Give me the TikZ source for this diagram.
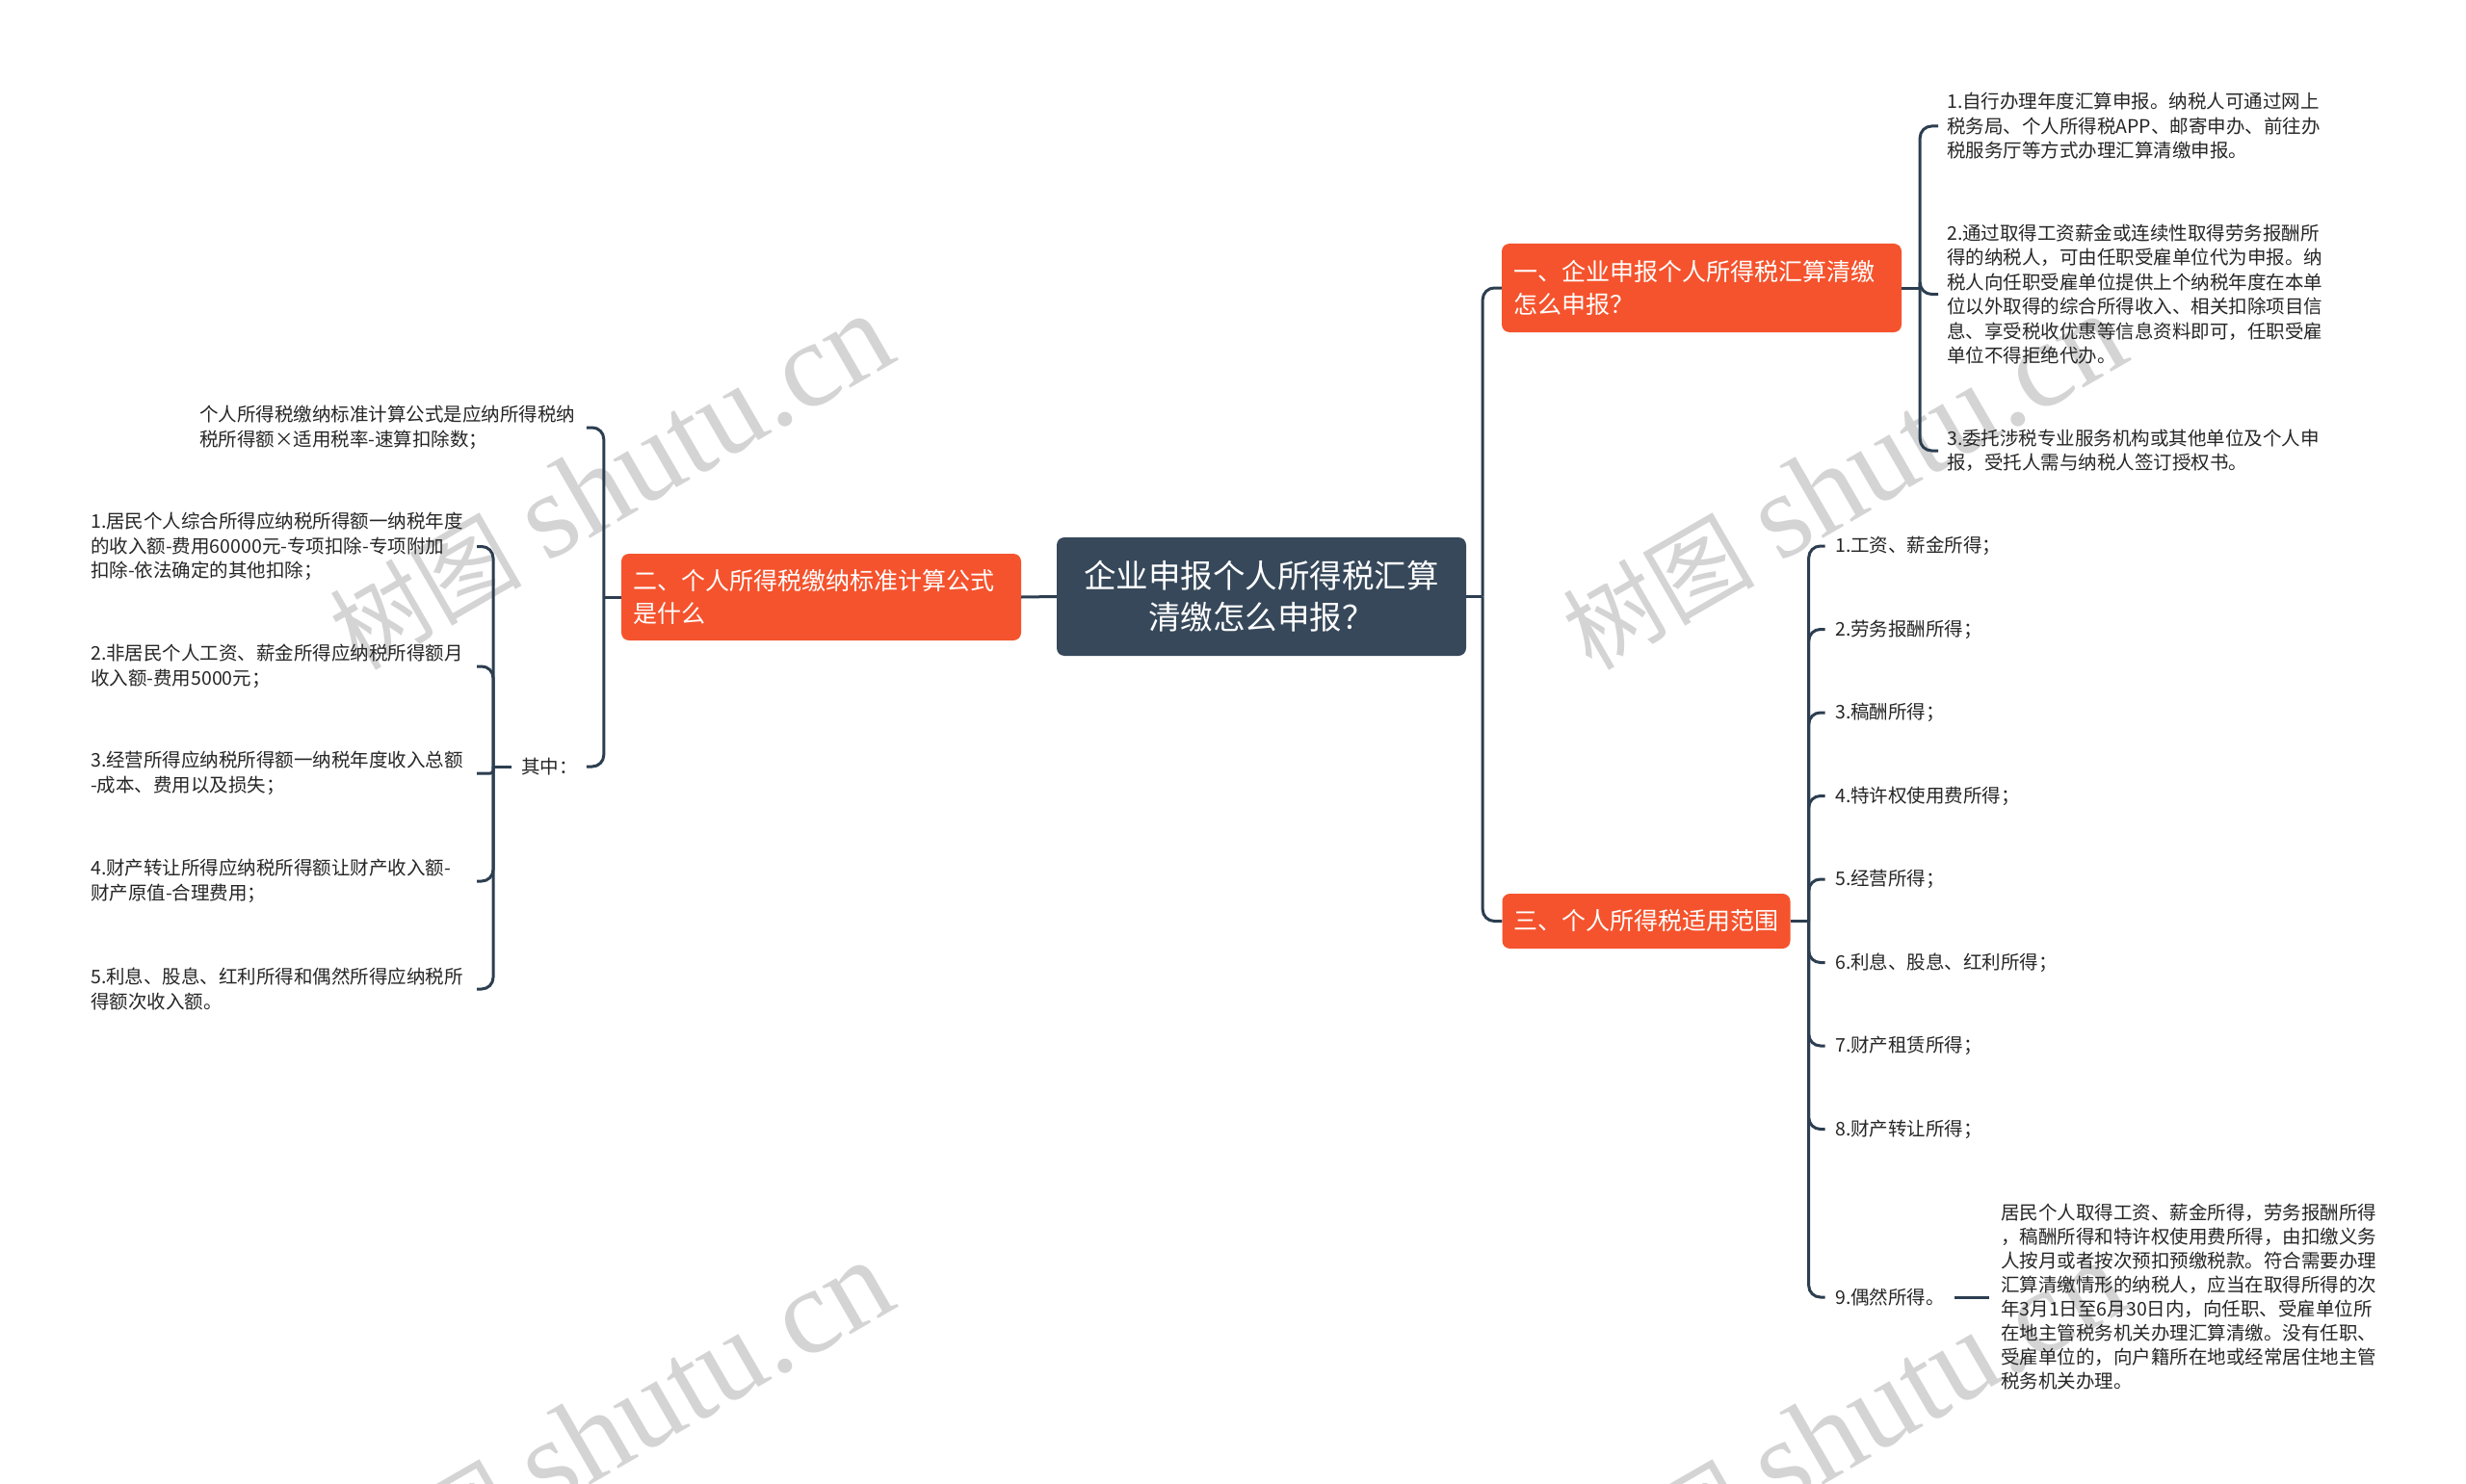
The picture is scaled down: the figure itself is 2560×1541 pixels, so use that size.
\documentclass[tikz,border=0pt]{standalone}
\usepackage{fontspec}
\setmainfont{Noto Sans CJK SC}
\newfontfamily\wmlat{Liberation Serif}
\newfontfamily\wmcjk{Noto Sans CJK SC}
\definecolor{lc}{HTML}{2C3E50}
\definecolor{cc}{HTML}{36485A}
\definecolor{orng}{HTML}{F5532D}
\definecolor{txt}{HTML}{262626}
\tikzset{
  conn/.style={draw=lc, line width=3pt, rounded corners=12pt},
  plain/.style={draw=lc, line width=3pt},
  centerbox/.style={fill=cc, text=white, rounded corners=8pt, align=center,
    font=\fontsize{33.5}{43}\selectfont, inner sep=0pt},
  topic/.style={fill=orng, text=white, rounded corners=8pt, align=left,
    font=\fontsize{25}{34}\selectfont, inner xsep=12pt, inner ysep=0pt},
  leaf/.style={font=\fontsize{19.5}{25.5}\selectfont, align=left, inner sep=0pt, text=txt},
  wm/.style={text=black!17, inner sep=0pt, anchor=base west, rotate=30}
}
\newcommand{\wmtext}{{\fontsize{100}{100}\wmcjk 树图}\hspace{26pt}{\fontsize{126}{126}\wmlat shutu.cn}}
\begin{document}
\begin{tikzpicture}[x=1pt,y=-1pt]
\useasboundingbox (0,0) rectangle (2560,1541);
\clip (0,0) rectangle (2560,1541);
\fill[white] (0,0) rectangle (2560,1541);

% watermarks
\node[wm] (wm1) at (372,698) {\wmtext};
\node[wm] (wm2) at (1652,698) {\wmtext};
\node[wm] (wm3) at (372,1681) {\wmtext};
\node[wm] (wm4) at (1652,1681) {\wmtext};

% main nodes
\node[centerbox, minimum width=425pt, minimum height=123pt] (C) at (1309.5,619.5) {企业申报个人所得税汇算\\清缴怎么申报？};
\node[topic, text width=391pt, minimum height=92pt] (N1) at (1766.5,299) {一、企业申报个人所得税汇算清缴\\怎么申报？};
\node[topic, text width=391pt, minimum height=90pt] (N2) at (852.5,620) {二、个人所得税缴纳标准计算公式\\是什么};
\node[topic, text width=275pt, minimum height=57pt] (N3) at (1709,956.5) {三、个人所得税适用范围};

% branch 1 children
\node[leaf, anchor=west] (c1a) at (2021,131) {1.自行办理年度汇算申报。纳税人可通过网上\\税务局、个人所得税APP、邮寄申办、前往办\\税服务厅等方式办理汇算清缴申报。};
\node[leaf, anchor=west] (c1b) at (2021,305.5) {2.通过取得工资薪金或连续性取得劳务报酬所\\得的纳税人，可由任职受雇单位代为申报。纳\\税人向任职受雇单位提供上个纳税年度在本单\\位以外取得的综合所得收入、相关扣除项目信\\息、享受税收优惠等信息资料即可，任职受雇\\单位不得拒绝代办。};
\node[leaf, anchor=west] (c1c) at (2021,468) {3.委托涉税专业服务机构或其他单位及个人申\\报，受托人需与纳税人签订授权书。};

% branch 2 children
\node[leaf, anchor=west] (c2a) at (207,444) {个人所得税缴纳标准计算公式是应纳所得税纳\\税所得额×适用税率-速算扣除数；};
\node[leaf, anchor=west] (qz) at (541,796) {其中：};
\node[leaf, anchor=west] (ch1) at (94,567.5) {1.居民个人综合所得应纳税所得额一纳税年度\\的收入额-费用60000元-专项扣除-专项附加\\扣除-依法确定的其他扣除；};
\node[leaf, anchor=west] (ch2) at (94,692) {2.非居民个人工资、薪金所得应纳税所得额月\\收入额-费用5000元；};
\node[leaf, anchor=west] (ch3) at (94,803) {3.经营所得应纳税所得额一纳税年度收入总额\\-成本、费用以及损失；};
\node[leaf, anchor=west] (ch4) at (94,915) {4.财产转让所得应纳税所得额让财产收入额-\\财产原值-合理费用；};
\node[leaf, anchor=west] (ch5) at (94,1027) {5.利息、股息、红利所得和偶然所得应纳税所\\得额次收入额。};

% branch 3 children
\node[leaf, anchor=west] (r1) at (1905,567) {1.工资、薪金所得；};
\node[leaf, anchor=west] (r2) at (1905,653.5) {2.劳务报酬所得；};
\node[leaf, anchor=west] (r3) at (1905,740) {3.稿酬所得；};
\node[leaf, anchor=west] (r4) at (1905,826.5) {4.特许权使用费所得；};
\node[leaf, anchor=west] (r5) at (1905,913) {5.经营所得；};
\node[leaf, anchor=west] (r6) at (1905,999.5) {6.利息、股息、红利所得；};
\node[leaf, anchor=west] (r7) at (1905,1086) {7.财产租赁所得；};
\node[leaf, anchor=west] (r8) at (1905,1172.5) {8.财产转让所得；};
\node[leaf, anchor=west] (r9) at (1905,1347) {9.偶然所得。};
\node[leaf, anchor=west, font=\fontsize{19.5}{25}\selectfont] (rx) at (2077,1347) {居民个人取得工资、薪金所得，劳务报酬所得\\，稿酬所得和特许权使用费所得，由扣缴义务\\人按月或者按次预扣预缴税款。符合需要办理\\汇算清缴情形的纳税人，应当在取得所得的次\\年3月1日至6月30日内，向任职、受雇单位所\\在地主管税务机关办理汇算清缴。没有任职、\\受雇单位的，向户籍所在地或经常居住地主管\\税务机关办理。};

% bus coordinates
\coordinate (b0) at ([xshift=17pt]C.east);
\coordinate (b1) at ([xshift=19pt]N1.east);
\coordinate (s1) at ([xshift=38pt]N1.east);
\coordinate (b2) at ([xshift=-18pt]N2.west);
\coordinate (s2) at ([xshift=-36pt]N2.west);
\coordinate (b3) at ([xshift=-29pt]qz.west);
\coordinate (s3) at ([xshift=-46pt]qz.west);
\coordinate (b4) at ([xshift=19pt]N3.east);
\coordinate (s4) at ([xshift=36pt]N3.east);

% connectors: center
\draw[plain] (C.east) -- (b0);
\draw[conn] (b0) |- (N1.west);
\draw[conn] (b0) |- (N3.west);
\draw[plain] (C.west) -- (N2.east);

% branch 1
\draw[plain] (N1.east) -- (b1);
\draw[conn] (b1) |- (s1 |- c1a.west);
\draw[conn] (b1) |- (s1 |- c1b.west);
\draw[conn] (b1) |- (s1 |- c1c.west);

% branch 2
\draw[plain] (N2.west) -- (b2);
\draw[conn] (b2) |- (s2 |- c2a.east);
\draw[conn] (b2) |- (s2 |- qz.east);
\draw[plain] (b3) -- ([xshift=-10pt]qz.west);
\draw[conn] (b3) |- (s3 |- ch1.east);
\draw[conn] (b3) |- (s3 |- ch2.east);
\draw[conn, rounded corners=3pt] (b3) |- (s3 |- ch3.east);
\draw[conn] (b3) |- (s3 |- ch4.east);
\draw[conn] (b3) |- (s3 |- ch5.east);

% branch 3
\draw[plain] (N3.east) -- (b4);
\foreach \n in {r1,r2,r3,r4,r5,r6,r7,r8,r9}{
  \draw[conn] (b4) |- (s4 |- \n.west);
}
\draw[plain] ([xshift=10pt]r9.east) -- ([xshift=-12pt]rx.west);
\end{tikzpicture}
\end{document}
